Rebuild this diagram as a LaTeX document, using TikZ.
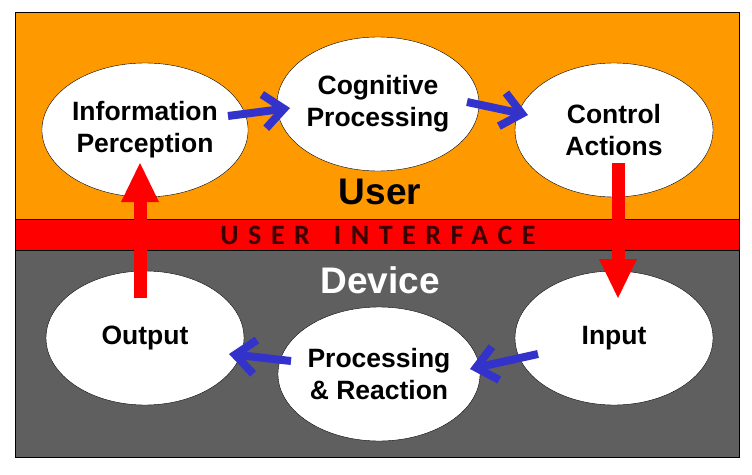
\documentclass[tikz,border=0pt]{standalone}
\usepackage{fontspec}
\setmainfont{Liberation Sans}
\newfontfamily\uifont[LetterSpace=34]{Carlito}
\usepackage{tikz}
\usetikzlibrary{calc}
\usetikzlibrary{shapes.geometric}
\usetikzlibrary{arrows.meta}
\definecolor{orangeband}{HTML}{FF9900}
\definecolor{redband}{HTML}{FF0000}
\definecolor{grayband}{HTML}{5F5F5F}
\definecolor{bleu}{HTML}{3333CC}
\definecolor{uitext}{HTML}{3C0000}

\begin{document}
\begin{tikzpicture}[x=1pt,y=-1pt,
        etape/.style={ellipse, draw, fill=white, minimum width=198pt, minimum height=134pt,
            inner sep=0pt, align=center, font=\bfseries\fontsize{26.5}{32}\selectfont},
        fleche/.style={draw=bleu, line width=8pt, -{Straight Barb[length=20pt,width=34pt]}},
        grosse/.style={draw=redband, line width=13pt, -{Triangle[length=39pt,width=38pt,line width=0pt]}}]
            \useasboundingbox (0,0) rectangle (752,474);
            % bands
            \fill[orangeband] (15,12) rectangle (739,219);
            \fill[redband] (15,219) rectangle (739,250);
            \fill[grayband] (15,250) rectangle (739,457);
            \draw (15,219) -- (739,219);
            \draw (15,250) -- (739,250);
            \draw (15,12) rectangle (739,457);
            \node[font=\bfseries\fontsize{37}{40}\selectfont] (user) at (380,192) {User};
            \node[font=\bfseries\fontsize{37}{40}\selectfont, text=white] (device) at (380,280) {Device};
            \node[text=uitext] (ui) at (378,235.5) {\uifont\bfseries\fontsize{28}{30}\selectfont USER\hspace{8pt} INTERFACE};
            % steps
            \node[etape] (info) at (145,130) {Information\\Perception};
            \node[etape] (cog) at (378,104) {Cognitive\\Processing};
            \node[etape] (ctrl) at (614,130) {Control\\Actions};
            \node[etape] (input) at (614,338) {Input};
            \node[etape] (proc) at (379,374) {Processing\\\& Reaction};
            \node[etape] (output) at (145,338) {Output};
            % arrows
            \draw[fleche] ($(info.center)+(83,-14)$) -- ($(cog.center)+(-88,4)$);
            \draw[fleche] ($(cog.center)+(89,-2)$) -- ($(ctrl.center)+(-86,-15)$);
            \draw[fleche] ($(input.center)+(-76,16)$) -- ($(proc.center)+(91,-5)$);
            \draw[fleche] ($(proc.center)+(-88,-13)$) -- ($(output.center)+(84,16)$);
            \draw[grosse] ($(output.center)+(-5,-40)$) -- ($(info.center)+(-5,33)$);
            \draw[grosse] ($(ctrl.center)+(4,33)$) -- ($(input.center)+(4,-40)$);
        \end{tikzpicture}
\end{document}
